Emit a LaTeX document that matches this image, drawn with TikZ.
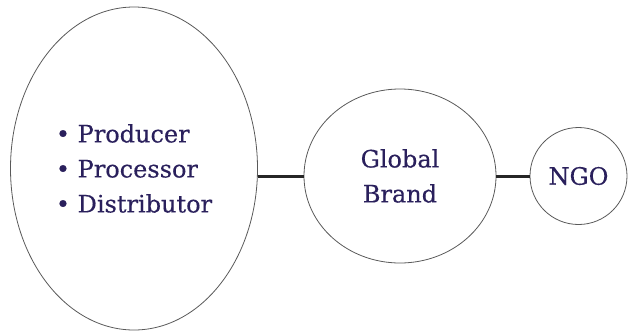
\documentclass[tikz,border=0pt]{standalone}
\usepackage{fontspec}
\newfontfamily\tagfont[FakeBold=0.35]{DejaVu Serif}
\usetikzlibrary{shapes.geometric}
\definecolor{labelink}{RGB}{42,32,92}
\tikzset{
	actor/.style={ellipse, draw=black!65, line width=0.8pt, inner sep=0pt, outer sep=0pt,
		text=labelink, font=\tagfont\fontsize{24}{35}\selectfont},
	tie/.style={line width=3pt, color=black!85}
}

\begin{document}
\begin{tikzpicture}[x=1pt, y=-1pt]
		%%%%% START %%%%%
		
		\useasboundingbox (0, 0) rectangle (636, 332);
		
		\node[actor, minimum width=247, minimum height=323, align=left] (chain) at (134, 168.5)
			{\textbullet\ Producer\\ \textbullet\ Processor\\ \textbullet\ Distributor};
		
		\node[actor, minimum width=192, minimum height=174, align=center] (brand) at (400, 176)
			{Global\\ Brand};
		
		\node[actor, minimum width=97, minimum height=97] (ngo) at (578.5, 176) {NGO};
		
		\draw[tie] (brand.west) -- (chain.east |- brand.west);
		\draw[tie] (brand.east) -- (ngo.west);
		
		%%%%% END %%%%%
	\end{tikzpicture}
\end{document}
